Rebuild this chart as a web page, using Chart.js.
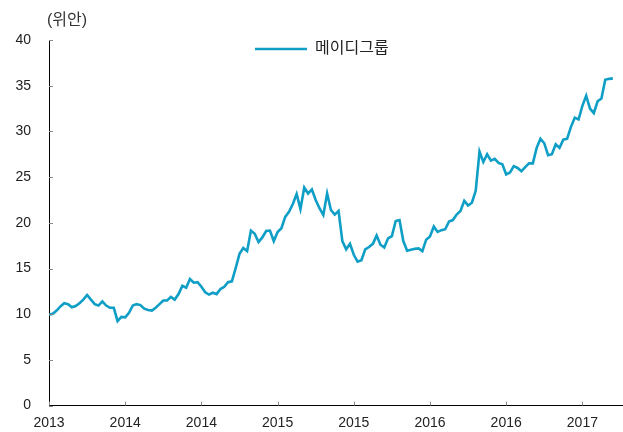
<!DOCTYPE html>
<html>
<head>
<meta charset="utf-8">
<script src="https://cdn.jsdelivr.net/npm/chart.js@4/dist/chart.umd.min.js"></script>
<style>
html,body{margin:0;padding:0;background:#fff;}
#wrap{width:623px;height:432px;position:relative;}
</style>
</head>
<body>
<div id="wrap"><canvas id="c"></canvas></div>
<script>
const seriesName = '메이디그룹';
const unitLabel = '(위안)';
const yearLabels = ['2013','2014','2014','2015','2015','2016','2016','2017'];
const yTicks = [0,5,10,15,20,25,30,35,40];
const prices = [
  9.95,10.05,10.4,10.85,11.2,11.1,10.75,10.9,11.2,11.6,
  12.1,11.6,11.1,10.95,11.4,10.95,10.7,10.7,9.25,9.7,
  9.65,10.15,10.95,11.1,11.0,10.6,10.45,10.4,10.7,11.1,
  11.5,11.5,11.9,11.6,12.2,13.1,12.9,13.85,13.45,13.5,
  13.0,12.4,12.15,12.35,12.2,12.75,13.0,13.5,13.6,15.05,
  16.6,17.25,16.9,19.15,18.8,17.9,18.4,19.1,19.15,18.0,
  19.0,19.4,20.65,21.2,22.05,23.15,21.5,23.85,23.2,23.65,
  22.5,21.6,20.85,23.2,21.4,20.9,21.3,18.0,17.1,17.7,
  16.5,15.75,15.9,17.1,17.35,17.7,18.6,17.6,17.3,18.3,
  18.55,20.2,20.3,18.0,16.95,17.05,17.15,17.2,16.9,18.15,
  18.5,19.6,19.0,19.2,19.3,20.15,20.3,20.9,21.3,22.4,
  21.9,22.2,23.5,27.8,26.65,27.5,26.8,27.0,26.55,26.4,
  25.3,25.5,26.2,26.0,25.65,26.1,26.5,26.5,28.2,29.2,
  28.7,27.4,27.5,28.6,28.2,29.1,29.2,30.5,31.5,31.3,
  32.8,33.9,32.5,32.0,33.3,33.6,35.65,35.75,35.8
];
const pointsPerLabel = 20;

const FONT = "'Liberation Sans', 'Noto Sans CJK KR', Arial, sans-serif";
const lineColor = '#0e9ec6';

const innerTicks = {
  id: 'innerTicks',
  afterLayout(chart) {
    const lg = chart.legend;
    const w = lg.right - lg.left, h = lg.bottom - lg.top;
    lg.left = 254; lg.right = 254 + w;
    lg.top = 40; lg.bottom = 40 + h;
  },
  afterDraw(chart) {
    const ctx = chart.ctx;
    const xs = chart.scales.x, ys = chart.scales.y;
    const a = chart.chartArea;
    ctx.save();
    ctx.strokeStyle = '#888';
    ctx.lineWidth = 1;
    ys.ticks.forEach(t => {
      const py = Math.round(ys.getPixelForValue(t.value)) + 0.5;
      ctx.beginPath(); ctx.moveTo(a.left, py); ctx.lineTo(a.left + 4, py); ctx.stroke();
    });
    xs.ticks.forEach(t => {
      const px = Math.round(xs.getPixelForValue(t.value)) + 0.5;
      ctx.beginPath(); ctx.moveTo(px, a.bottom); ctx.lineTo(px, a.bottom - 4); ctx.stroke();
    });
    ctx.fillStyle = '#333';
    ctx.font = '16px ' + FONT;
    ctx.textBaseline = 'middle';
    ctx.textAlign = 'left';
    ctx.fillText(unitLabel, a.left - 2, 21);
    ctx.restore();
  }
};

new Chart(document.getElementById('c'), {
  type: 'line',
  data: {
    datasets: [{
      label: seriesName,
      data: prices.map((v, i) => ({x: i, y: v})),
      borderColor: lineColor,
      backgroundColor: lineColor,
      borderWidth: 2.6,
      pointRadius: 0,
      tension: 0
    }]
  },
  options: {
    responsive: true,
    maintainAspectRatio: false,
    animation: false,
    layout: {padding: {top: 40, right: 1, bottom: 0, left: 0}},
    plugins: {
      legend: {
        position: 'chartArea',
        align: 'start',
        labels: {
          usePointStyle: true,
          pointStyle: 'line',
          pointStyleWidth: 52,
          padding: 1,
          color: '#222',
          font: {family: FONT, size: 16}
        }
      },
      tooltip: {enabled: false}
    },
    scales: {
      x: {
        type: 'linear',
        min: 0,
        max: 150.4,
        grid: {display: false, drawTicks: false},
        border: {display: true, color: '#000', width: 1},
        afterBuildTicks: s => { s.ticks = yearLabels.map((_, k) => ({value: k * pointsPerLabel})); },
        afterFit: s => { s.height = 24; },
        ticks: {
          padding: 9,
          autoSkip: false,
          maxRotation: 0,
          color: '#222',
          font: {family: FONT, size: 14},
          callback: v => yearLabels[Math.round(v / pointsPerLabel)] || ''
        }
      },
      y: {
        min: 0,
        max: 40,
        grid: {display: false, drawTicks: false},
        border: {display: true, color: '#000', width: 1},
        afterBuildTicks: s => { s.ticks = yTicks.map(v => ({value: v})); },
        afterFit: s => { s.width = 49; },
        ticks: {
          padding: 18,
          color: '#222',
          font: {family: FONT, size: 14}
        }
      }
    }
  },
  plugins: [innerTicks]
});
</script>
</body>
</html>
